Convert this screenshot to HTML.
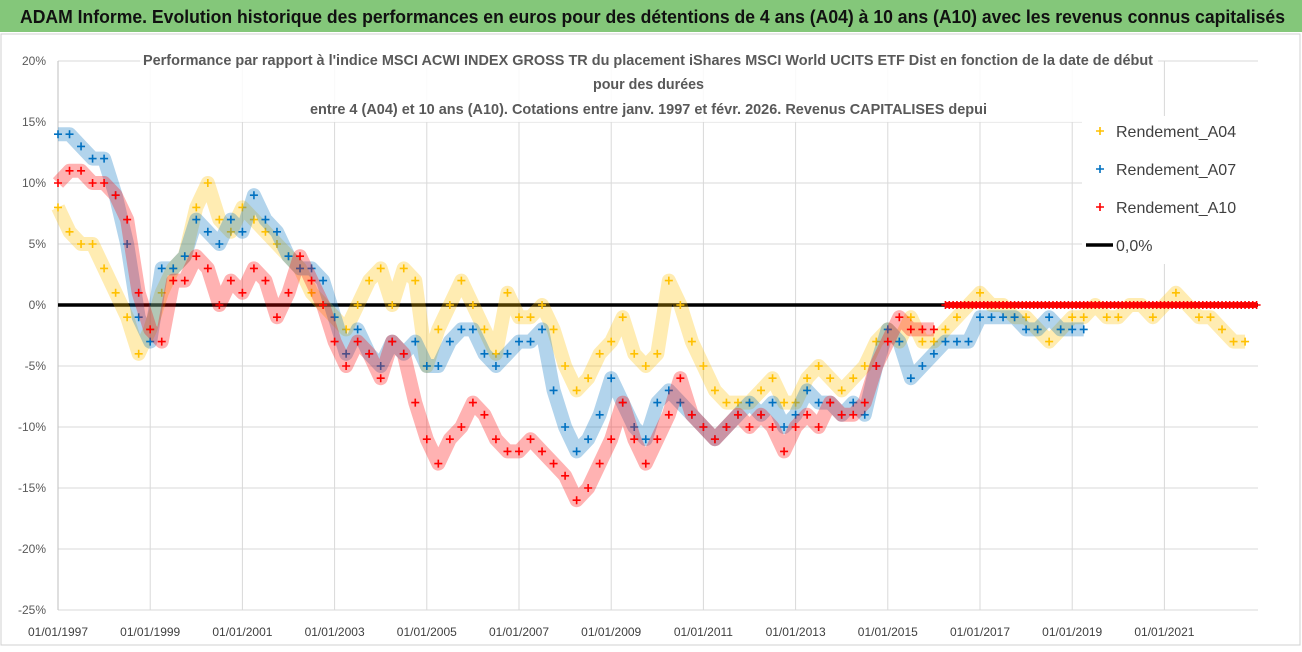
<!DOCTYPE html>
<html><head><meta charset="utf-8"><style>
body{margin:0;width:1302px;height:647px;overflow:hidden;background:#fff;font-family:"Liberation Sans",sans-serif}
</style></head><body>
<svg width="1302" height="647" viewBox="0 0 1302 647" xmlns="http://www.w3.org/2000/svg">
<rect x="0" y="0" width="1302" height="32" fill="#84c77a"/>
<text x="20" y="23" font-size="18" font-weight="bold" fill="#111" textLength="1265" lengthAdjust="spacingAndGlyphs">ADAM Informe. Evolution historique des performances en euros pour des détentions de 4 ans (A04) à 10 ans (A10) avec les revenus connus capitalisés</text>
<rect x="1" y="34" width="1299" height="611" fill="none" stroke="#d0d0d0"/>
<g id="grid"></g>
<g id="marks"></g>
<g id="axes"></g>
<rect x="140" y="46" width="1018" height="76" fill="#fff" opacity="0.85"/>
<g font-size="15" font-weight="bold" fill="#595959">
<text x="143" y="65" textLength="1010" lengthAdjust="spacingAndGlyphs">Performance par rapport à l'indice MSCI ACWI INDEX GROSS TR  du placement iShares MSCI World UCITS ETF Dist en fonction de la date de début</text>
<text x="593" y="89" textLength="111" lengthAdjust="spacingAndGlyphs">pour des durées</text>
<text x="310" y="114" textLength="677" lengthAdjust="spacingAndGlyphs">entre 4 (A04) et 10 ans (A10). Cotations entre janv. 1997 et févr. 2026. Revenus CAPITALISES depui</text>
</g>
<g id="legend">
<rect x="1082" y="116" width="206" height="148" fill="#fff"/>
</g>
</svg>
<script>
const yTicks=[20,15,10,5,0,-5,-10,-15,-20,-25];
const xTickYears=[1997,1999,2001,2003,2005,2007,2009,2011,2013,2015,2017,2019,2021];
const xTickLabels=["01/01/1997","01/01/1999","01/01/2001","01/01/2003","01/01/2005","01/01/2007","01/01/2009","01/01/2011","01/01/2013","01/01/2015","01/01/2017","01/01/2019","01/01/2021"];
const a04Values=[8,6,5,5, 3,1,-1,-4, -2,1,3,4, 8,10,7,6, 8,7,6,5, 4,3,1,0, -1,-2,0,2, 3,0,3,2, -5,-2,0,2, 0,-2,-4,1, -1,-1,0,-2, -5,-7,-6,-4, -3,-1,-4,-5, -4,2,0,-3, -5,-7,-8,-8, -8,-7,-6,-8, -8,-6,-5,-6, -7,-6,-5,-3, -2,-3,-1,-3, -3,-2,-1,0, 1,0,0,-1, -1,-2,-3,-2, -1,-1,0,-1, -1,0,0,-1, 0,1,0,-1, -1,-2,-3,-3];
const a07Values=[14,14,13,12, 12,9,5,-1, -3,3,3,4, 7,6,5,7, 6,9,7,6, 4,3,3,2, -1,-4,-2,-4, -5,-3,-4,-3, -5,-5,-3,-2, -2,-4,-5,-4, -3,-3,-2,-7, -10,-12,-11,-9, -6,-8,-10,-11, -8,-7,-8,-9, -10,-11,-10,-9, -8,-9,-8,-10, -9,-7,-8,-8, -9,-8,-9,-5, -2,-3,-6,-5, -4,-3,-3,-3, -1,-1,-1,-1, -2,-2,-1,-2, -2,-2];
const a10Values=[10,11,11,10, 10,9,7,1, -2,-3,2,2, 4,3,0,2, 1,3,2,-1, 1,4,2,0, -3,-5,-3,-4, -6,-3,-4,-8, -11,-13,-11,-10, -8,-9,-11,-12, -12,-11,-12,-13, -14,-16,-15,-13, -11,-8,-11,-13, -11,-9,-6,-9, -10,-11,-10,-9, -10,-9,-10,-12, -10,-9,-10,-8, -9,-9,-8,-5, -3,-1,-2,-2, -2];
const a10TailValues=[0,0,0,0,0,0,0,0,0,0,0,0,0,0,0,0,0,0,0,0,0,0,0,0,0,0,0,0,0,0,0,0,0,0,0,0,0,0,0,0,0,0,0,0,0,0,0,0,0,0,0,0,0,0,0,0,0,0,0,0,0,0,0,0,0,0,0,0,0,0,0,0,0,0,0,0,0,0,0,0,0,0];
const NS="http://www.w3.org/2000/svg";
function xs(yr){return 58+(yr-1997)*46.1;}
function ys(v){return 305-v*12.2;}
function mk(tag,attrs,parent){const e=document.createElementNS(NS,tag);for(const k in attrs)e.setAttribute(k,attrs[k]);parent.appendChild(e);return e;}
const grid=document.getElementById('grid'),marks=document.getElementById('marks'),axes=document.getElementById('axes'),legend=document.getElementById('legend');
yTicks.forEach(t=>{
  const l=mk('line',{x1:58,x2:1258,y1:ys(t),y2:ys(t),stroke:'#d9d9d9','stroke-width':1},grid);
  
  
  const tx=mk('text',{x:46,y:ys(t)+4,'text-anchor':'end','font-size':12,fill:'#595959'},axes);
  tx.textContent=t+'%';
  
  
});
xTickYears.forEach((yr,i)=>{
  const l=mk('line',{x1:xs(yr),x2:xs(yr),y1:ys(20),y2:ys(-25),stroke:i==0?'#bfbfbf':'#d9d9d9','stroke-width':1},grid);
  
  
  const tx=mk('text',{x:xs(yr),y:636,'text-anchor':'middle','font-size':12,fill:'#404040'},axes);
  tx.textContent=xTickLabels[i];
  
  
});
function series(vals,start,step,color,name,w,op){
  const g=mk('g',{},marks);
  
  
  const pts=vals.map((v,i)=>[xs(start+i*step),ys(v)]);
  const pl=mk('polyline',{points:pts.map(p=>p.join(',')).join(' '),fill:'none',stroke:color,'stroke-width':w,'stroke-opacity':op,'stroke-linejoin':'round'},g);
  
  
  pts.forEach(p=>{
    const m=mk('path',{d:`M${p[0]-4},${p[1]}h8M${p[0]},${p[1]-4}v8`,stroke:color,'stroke-width':1.6},g);
    
    
  });
}
const zl=mk('line',{x1:58,x2:1258,y1:ys(0),y2:ys(0),stroke:'#000','stroke-width':3.5},marks);


series(a04Values,1997,0.25,'#ffc000','series-a04',14,0.3);
series(a07Values,1997,0.25,'#0070c0','series-a07',14,0.3);
series(a10Values,1997,0.25,'#ff0000','series-a10',14,0.3);
series(a10TailValues,2016.25,1/12,'#ff0000','series-a10-tail',6,0.9);
const leg=[['Rendement_A04','#ffc000',131],['Rendement_A07','#0070c0',169],['Rendement_A10','#ff0000',207]];
leg.forEach(e=>{
  const m=mk('path',{d:`M${1096},${e[2]}h8M1100,${e[2]-4}v8`,stroke:e[1],'stroke-width':1.6},legend);
  
  
  const t=mk('text',{x:1116,y:e[2]+6,'font-size':16,fill:'#404040'},legend);
  t.textContent=e[0];
  
  
});
const ll=mk('line',{x1:1086,x2:1113,y1:245,y2:245,stroke:'#000','stroke-width':3.5},legend);


const lt=mk('text',{x:1116,y:251,'font-size':16,fill:'#404040'},legend);
lt.textContent='0,0%';


</script>
</body></html>
